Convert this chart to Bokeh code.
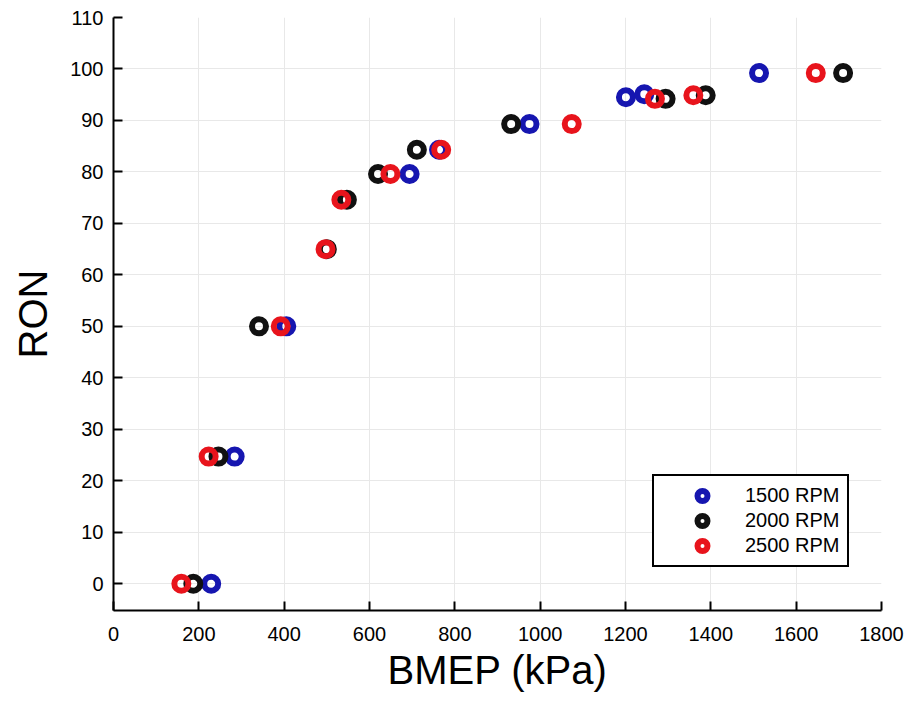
from bokeh.plotting import figure
from bokeh.models import FixedTicker, Legend, LegendItem
from bokeh.embed import file_html
from bokeh.resources import INLINE

# ---- data ----
ron_1500 = [0, 24.7, 50, 79.6, 84.3, 89.3, 94.5, 95.1, 99.2]
bmep_1500 = [229, 284, 405, 694, 763, 975, 1201, 1244, 1513]

ron_2000 = [0, 24.7, 50, 65, 74.6, 79.6, 84.3, 89.3, 94.2, 94.9, 99.2]
bmep_2000 = [187, 246, 341, 500, 547, 620, 711, 932, 1294, 1388, 1710]

ron_2500 = [0, 24.7, 50, 65, 74.6, 79.6, 84.3, 89.3, 94.2, 94.9, 99.2]
bmep_2500 = [159, 223, 392, 497, 534, 649, 768, 1074, 1269, 1359, 1646]

x_ticks = [0, 200, 400, 600, 800, 1000, 1200, 1400, 1600, 1800]
y_ticks = [0, 10, 20, 30, 40, 50, 60, 70, 80, 90, 100, 110]

series = [
    ("1500 RPM", bmep_1500, ron_1500, "#1616b0"),
    ("2000 RPM", bmep_2000, ron_2000, "#111111"),
    ("2500 RPM", bmep_2500, ron_2500, "#e8141c"),
]

FONT = "Liberation Sans"

p = figure(width=907, height=702, output_backend="svg", toolbar_location=None,
           x_range=(0, 1800), y_range=(-5.2, 110),
           min_border_left=113, min_border_right=26, min_border_top=17, min_border_bottom=92)
p.outline_line_color = None
p.background_fill_color = "white"
p.border_fill_color = "white"

items = []
for label, xs, ys, col in series:
    r = p.scatter(xs, ys, size=14, marker="circle", fill_color=None,
                  line_color=col, line_width=6)
    items.append(LegendItem(label=label, renderers=[r]))

for ax in (p.xaxis[0], p.yaxis[0]):
    ax.axis_line_width = 2
    ax.axis_line_color = "#000000"
    ax.major_tick_line_width = 2
    ax.major_tick_line_color = "#000000"
    ax.major_tick_in = 9
    ax.major_tick_out = 0
    ax.minor_tick_line_color = None
    ax.major_label_text_font = FONT
    ax.major_label_text_font_size = "20px"
    ax.major_label_text_color = "#000000"
    ax.axis_label_text_font = FONT
    ax.axis_label_text_font_style = "normal"
    ax.axis_label_text_font_size = "40px"
    ax.axis_label_text_color = "#000000"

p.xaxis.ticker = FixedTicker(ticks=x_ticks)
p.yaxis.ticker = FixedTicker(ticks=y_ticks)
p.xaxis.axis_label = "BMEP (kPa)"
p.yaxis.axis_label = "RON"
p.xaxis.major_label_standoff = 16
p.xaxis.axis_label_standoff = 4
p.yaxis.major_label_standoff = 10
p.yaxis.axis_label_standoff = 12

p.grid.grid_line_color = "#e8e8e8"
p.grid.grid_line_width = 1

legend = Legend(items=items, location=(539, 43))
legend.border_line_color = "#000000"
legend.border_line_alpha = 1.0
legend.border_line_width = 2
legend.background_fill_color = "white"
legend.background_fill_alpha = 1
legend.label_text_font = FONT
legend.label_text_font_size = "20px"
legend.label_text_color = "#000000"
legend.glyph_width = 82
legend.glyph_height = 25
legend.label_height = 25
legend.label_standoff = 2
legend.spacing = 0
legend.padding = 7
legend.margin = 0
p.add_layout(legend, "center")

open("out.html", "w").write(file_html(p, INLINE))
